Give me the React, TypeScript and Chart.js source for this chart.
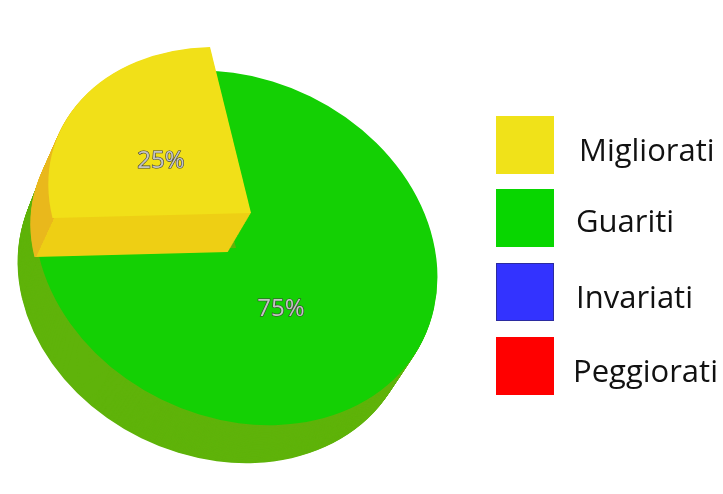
import { useEffect, useRef } from "react";
import { Chart, registerables } from "chart.js";
import type { Plugin } from "chart.js";

Chart.register(...registerables);

const categories = ["Migliorati", "Guariti", "Invariati", "Peggiorati"];
const values = [25, 75, 0, 0];
const topColors = ["#f1e018", "#14d004", "#3333ff", "#ff0000"];
const swatchColors = ["#f0e219", "#08d600", "#3333ff", "#ff0000"];
const swatchBorders = ["#f0e219", "#08d600", "#2b2ba0", "#ff0000"];

// tilted faces of the two visible slices, in page pixels
const GREEN = { c: [236, 248], m: [197, -8, 42, 177], depth: [-22, 42.4], taper: 0.975 };
const YELLOW = { c: [251, 213], m: [198.5, -5, 41, 166], depth: [-23, 39], taper: 0.975 };
const STEPS = 60;

const pctAnchors = [
  [161, 161],
  [281, 309],
];

// label nudges, the labels in the picture are not quite lined up
const labelX = [579, 576, 576, 573];
const labelY = [149, 220, 296, 370];

function drawArc(ctx: CanvasRenderingContext2D, arc: any, face: typeof GREEN, color: any, t: number) {
  const r = arc.outerRadius;
  const k = (1 - (1 - face.taper) * t) / r;
  const saved = arc.options;
  arc.options = { ...saved, backgroundColor: color, borderWidth: 0 };
  ctx.save();
  ctx.translate(face.c[0] + face.depth[0] * t, face.c[1] + face.depth[1] * t);
  ctx.transform(face.m[0] * k, face.m[1] * k, face.m[2] * k, face.m[3] * k, 0, 0);
  ctx.translate(-arc.x, -arc.y);
  arc.draw(ctx);
  ctx.restore();
  arc.options = saved;
}

const tiltedPie: Plugin<"pie"> = {
  id: "tiltedPie",
  beforeDatasetDraw(chart) {
    const ctx = chart.ctx;
    const arcs = chart.getDatasetMeta(0).data as any[];
    const [yellow, green] = arcs;

    // green wall runs under the whole disc
    for (let i = STEPS; i > 0; i--) {
      arcs.forEach((a) => drawArc(ctx, a, GREEN, "#5fb30a", i / STEPS));
    }
    drawArc(ctx, green, GREEN, topColors[1], 0);

    // yellow wall: darker on the curved rim, lighter on the flat cut
    const wall = ctx.createRadialGradient(yellow.x, yellow.y, 0, yellow.x, yellow.y, yellow.outerRadius);
    wall.addColorStop(0, "#eecf14");
    wall.addColorStop(0.99, "#eecf14");
    wall.addColorStop(0.99, "#e9b81c");
    wall.addColorStop(1, "#e9b81c");
    for (let i = STEPS; i > 0; i--) drawArc(ctx, yellow, YELLOW, wall, i / STEPS);
    drawArc(ctx, yellow, YELLOW, topColors[0], 0);

    // percent labels, outlined
    ctx.save();
    ctx.font = "24px 'Open Sans'";
    ctx.textAlign = "center";
    ctx.textBaseline = "middle";
    ctx.lineWidth = 1.2;
    ctx.strokeStyle = "#3c3c3c";
    ctx.fillStyle = "#c4c4c4";
    pctAnchors.forEach((p, i) => {
      const s = values[i] + "%";
      ctx.strokeText(s, p[0], p[1]);
      ctx.fillText(s, p[0], p[1]);
    });
    ctx.restore();
    return false;
  },
};

export default function App() {
  const canvasRef = useRef<HTMLCanvasElement>(null);

  useEffect(() => {
    if (!canvasRef.current) return;
    const chart = new Chart(canvasRef.current, {
      type: "pie",
      data: {
        labels: categories,
        datasets: [{ data: values, backgroundColor: topColors, borderWidth: 0 }],
      },
      options: {
        responsive: false,
        animation: false,
        rotation: -90,
        plugins: { legend: { display: false }, tooltip: { enabled: false } },
      },
      plugins: [tiltedPie],
    });
    return () => chart.destroy();
  }, []);

  return (
    <div style={{ position: "absolute", left: 0, top: 0, width: 723, height: 494, background: "#fff", overflow: "hidden" }}>
      <canvas ref={canvasRef} width={723} height={494} style={{ display: "block" }} />
      {categories.map((c, i) => (
        <div key={c}>
          <div
            style={{
              position: "absolute",
              left: 496,
              top: 116 + Math.floor(i * 73.7),
              width: 58,
              height: 58,
              boxSizing: "border-box",
              background: swatchColors[i],
              border: `1px solid ${swatchBorders[i]}`,
            }}
          />
          <div
            style={{
              position: "absolute",
              left: labelX[i],
              top: labelY[i] - 20,
              height: 40,
              font: "31px/40px 'Open Sans', sans-serif",
              color: "#111",
              whiteSpace: "nowrap",
            }}
          >
            {c}
          </div>
        </div>
      ))}
    </div>
  );
}
